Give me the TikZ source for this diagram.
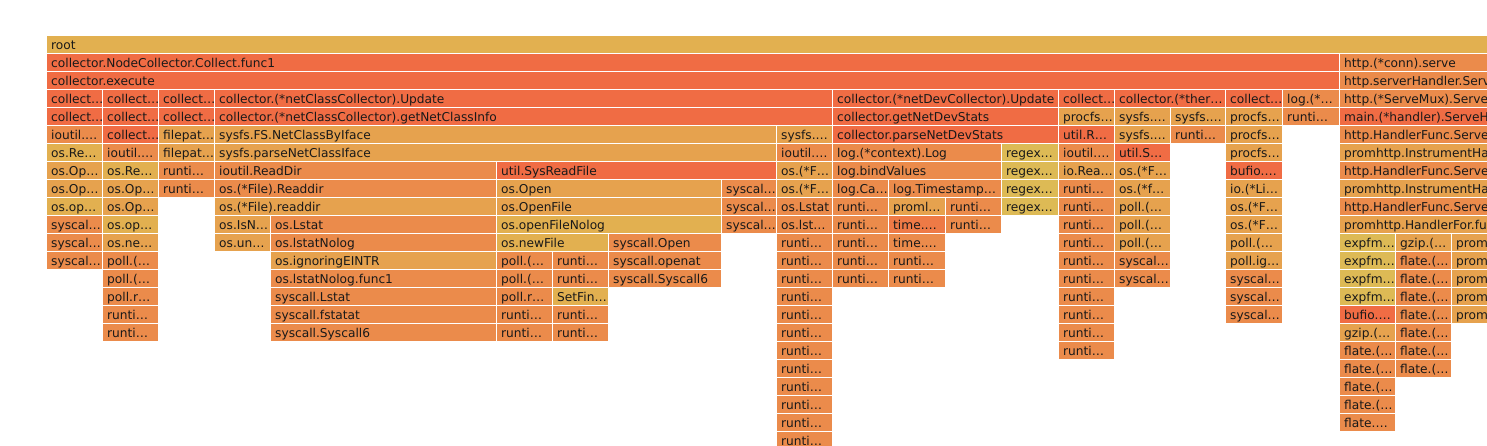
\documentclass[tikz,border=0pt]{standalone}
\usepackage{fontspec}
\setmainfont{DejaVu Sans}
\usepackage{tikz}

\definecolor{fgred}{HTML}{F06C44}
\definecolor{fgtomato}{HTML}{EE7A46}
\definecolor{fgorange}{HTML}{EB8B4B}
\definecolor{fglight}{HTML}{E6A24E}
\definecolor{fggold}{HTML}{E2B050}
\definecolor{fgyellow}{HTML}{DDBA55}

% name, colour, left x, next left x, depth, label
\newcommand{\fg}[6]{%
  \pgfmathsetmacro{\fgw}{#4-#3-9}%
  \node[callbox, fill=#2, text width=\fgw pt] (#1) at (#3,{35.5+18*#5}) {\mbox{#6}};%
}

\begin{document}
\begin{tikzpicture}[x=1pt, y=-1pt, font=\fontsize{12.2}{14}\selectfont]
    \tikzstyle{callbox} = [rectangle, anchor=north west, inner xsep=4pt, inner ysep=0pt, minimum height=17pt, text height=11.8pt, text depth=2pt, align=left, text=black!90]

    \path[use as bounding box, fill=white] (0,0) rectangle (1487,446);
    \clip (0,0) rectangle (1487,446);

    \fg{root}{fggold}{47}{1500}{0}{root}
    \fg{a1}{fgred}{47}{1340}{1}{collector.NodeCollector.Collect.func1}
    \fg{t1}{fgorange}{1340}{1500}{1}{http.(*conn).serve}
    \fg{a2}{fgred}{47}{1340}{2}{collector.execute}
    \fg{t2}{fgorange}{1340}{1500}{2}{http.serverHandler.Serve}

    \fg{a3}{fgred}{47}{103}{3}{collect…}
    \fg{b3}{fgred}{103}{159}{3}{collect…}
    \fg{c3}{fgred}{159}{215}{3}{collect…}
    \fg{d3}{fgred}{215}{833}{3}{collector.(*netClassCollector).Update}
    \fg{k3}{fgred}{833}{1059}{3}{collector.(*netDevCollector).Update}
    \fg{o3}{fgred}{1059}{1115}{3}{collect…}
    \fg{p3}{fgred}{1115}{1226}{3}{collector.(*ther…}
    \fg{r3}{fgred}{1226}{1283}{3}{collect…}
    \fg{s3}{fgorange}{1283}{1340}{3}{log.(*…}
    \fg{t3}{fgorange}{1340}{1500}{3}{http.(*ServeMux).Serve}

    \fg{a4}{fgred}{47}{103}{4}{collect…}
    \fg{b4}{fgred}{103}{159}{4}{collect…}
    \fg{c4}{fgred}{159}{215}{4}{collect…}
    \fg{d4}{fgred}{215}{833}{4}{collector.(*netClassCollector).getNetClassInfo}
    \fg{k4}{fgred}{833}{1059}{4}{collector.getNetDevStats}
    \fg{o4}{fglight}{1059}{1115}{4}{procfs…}
    \fg{p4}{fglight}{1115}{1171}{4}{sysfs.…}
    \fg{q4}{fglight}{1171}{1226}{4}{sysfs.…}
    \fg{r4}{fglight}{1226}{1283}{4}{procfs…}
    \fg{s4}{fgorange}{1283}{1340}{4}{runti…}
    \fg{t4}{fgred}{1340}{1500}{4}{main.(*handler).ServeH}

    \fg{a5}{fgorange}{47}{103}{5}{ioutil.…}
    \fg{b5}{fgred}{103}{159}{5}{collect…}
    \fg{c5}{fglight}{159}{215}{5}{filepat…}
    \fg{d5}{fglight}{215}{777}{5}{sysfs.FS.NetClassByIface}
    \fg{j5}{fglight}{777}{833}{5}{sysfs.…}
    \fg{k5}{fgred}{833}{1059}{5}{collector.parseNetDevStats}
    \fg{o5}{fgred}{1059}{1115}{5}{util.R…}
    \fg{p5}{fglight}{1115}{1171}{5}{sysfs.…}
    \fg{q5}{fgorange}{1171}{1226}{5}{runti…}
    \fg{r5}{fglight}{1226}{1283}{5}{procfs…}
    \fg{t5}{fgorange}{1340}{1500}{5}{http.HandlerFunc.Serve}

    \fg{a6}{fggold}{47}{103}{6}{os.Re…}
    \fg{b6}{fgorange}{103}{159}{6}{ioutil.…}
    \fg{c6}{fglight}{159}{215}{6}{filepat…}
    \fg{d6}{fglight}{215}{777}{6}{sysfs.parseNetClassIface}
    \fg{j6}{fgorange}{777}{833}{6}{ioutil.…}
    \fg{k6}{fgorange}{833}{1002}{6}{log.(*context).Log}
    \fg{n6}{fgyellow}{1002}{1059}{6}{regex…}
    \fg{o6}{fgorange}{1059}{1115}{6}{ioutil.…}
    \fg{p6}{fgred}{1115}{1171}{6}{util.S…}
    \fg{r6}{fglight}{1226}{1283}{6}{procfs…}
    \fg{t6}{fglight}{1340}{1500}{6}{promhttp.InstrumentHa}

    \fg{a7}{fglight}{47}{103}{7}{os.Op…}
    \fg{b7}{fggold}{103}{159}{7}{os.Re…}
    \fg{c7}{fgorange}{159}{215}{7}{runti…}
    \fg{d7}{fgorange}{215}{497}{7}{ioutil.ReadDir}
    \fg{f7}{fgred}{497}{777}{7}{util.SysReadFile}
    \fg{j7}{fglight}{777}{833}{7}{os.(*F…}
    \fg{k7}{fgorange}{833}{1002}{7}{log.bindValues}
    \fg{n7}{fgyellow}{1002}{1059}{7}{regex…}
    \fg{o7}{fglight}{1059}{1115}{7}{io.Rea…}
    \fg{p7}{fglight}{1115}{1171}{7}{os.(*F…}
    \fg{r7}{fgred}{1226}{1283}{7}{bufio.…}
    \fg{t7}{fgorange}{1340}{1500}{7}{http.HandlerFunc.Serve}

    \fg{a8}{fglight}{47}{103}{8}{os.Op…}
    \fg{b8}{fglight}{103}{159}{8}{os.Op…}
    \fg{c8}{fgorange}{159}{215}{8}{runti…}
    \fg{d8}{fgorange}{215}{497}{8}{os.(*File).Readdir}
    \fg{f8}{fglight}{497}{722}{8}{os.Open}
    \fg{i8}{fgorange}{722}{777}{8}{syscal…}
    \fg{j8}{fglight}{777}{833}{8}{os.(*F…}
    \fg{k8}{fgorange}{833}{889}{8}{log.Ca…}
    \fg{l8}{fgorange}{889}{1002}{8}{log.Timestamp…}
    \fg{n8}{fgyellow}{1002}{1059}{8}{regex…}
    \fg{p8}{fglight}{1115}{1171}{8}{os.(*f…}
    \fg{r8}{fglight}{1226}{1283}{8}{io.(*Li…}
    \fg{t8}{fglight}{1340}{1500}{8}{promhttp.InstrumentHa}

    \fg{a9}{fggold}{47}{103}{9}{os.op…}
    \fg{b9}{fglight}{103}{159}{9}{os.Op…}
    \fg{d9}{fglight}{215}{497}{9}{os.(*File).readdir}
    \fg{f9}{fglight}{497}{722}{9}{os.OpenFile}
    \fg{i9}{fgorange}{722}{777}{9}{syscal…}
    \fg{j9}{fgorange}{777}{833}{9}{os.Lstat}
    \fg{l9}{fglight}{889}{946}{9}{proml…}
    \fg{n9}{fgyellow}{1002}{1059}{9}{regex…}
    \fg{p9}{fglight}{1115}{1171}{9}{poll.(…}
    \fg{r9}{fglight}{1226}{1283}{9}{os.(*F…}
    \fg{t9}{fgorange}{1340}{1500}{9}{http.HandlerFunc.Serve}

    \fg{a10}{fgorange}{47}{103}{10}{syscal…}
    \fg{b10}{fggold}{103}{159}{10}{os.op…}
    \fg{d10}{fglight}{215}{271}{10}{os.IsN…}
    \fg{e10}{fgorange}{271}{497}{10}{os.Lstat}
    \fg{f10}{fggold}{497}{722}{10}{os.openFileNolog}
    \fg{i10}{fgorange}{722}{777}{10}{syscal…}
    \fg{j10}{fgorange}{777}{833}{10}{os.lst…}
    \fg{l10}{fgtomato}{889}{946}{10}{time.…}
    \fg{p10}{fglight}{1115}{1171}{10}{poll.(…}
    \fg{r10}{fglight}{1226}{1283}{10}{os.(*F…}
    \fg{t10}{fglight}{1340}{1500}{10}{promhttp.HandlerFor.fu}

    \fg{a11}{fgorange}{47}{103}{11}{syscal…}
    \fg{b11}{fglight}{103}{159}{11}{os.ne…}
    \fg{d11}{fglight}{215}{271}{11}{os.un…}
    \fg{e11}{fgorange}{271}{497}{11}{os.lstatNolog}
    \fg{f11}{fggold}{497}{609}{11}{os.newFile}
    \fg{h11}{fgorange}{609}{722}{11}{syscall.Open}
    \fg{l11}{fgorange}{889}{946}{11}{time.…}
    \fg{p11}{fglight}{1115}{1171}{11}{poll.(…}
    \fg{r11}{fglight}{1226}{1283}{11}{poll.(…}
    \fg{u11}{fglight}{1396}{1452}{11}{gzip.(…}

    \fg{a12}{fgorange}{47}{103}{12}{syscal…}
    \fg{b12}{fgorange}{103}{159}{12}{poll.(…}
    \fg{e12}{fglight}{271}{497}{12}{os.ignoringEINTR}
    \fg{f12}{fgorange}{497}{553}{12}{poll.(…}
    \fg{h12}{fgorange}{609}{722}{12}{syscall.openat}
    \fg{p12}{fgorange}{1115}{1171}{12}{syscal…}
    \fg{r12}{fglight}{1226}{1283}{12}{poll.ig…}

    \fg{b13}{fgorange}{103}{159}{13}{poll.(…}
    \fg{e13}{fgorange}{271}{497}{13}{os.lstatNolog.func1}
    \fg{f13}{fgorange}{497}{553}{13}{poll.(…}
    \fg{h13}{fgorange}{609}{722}{13}{syscall.Syscall6}
    \fg{p13}{fgorange}{1115}{1171}{13}{syscal…}

    \fg{b14}{fgorange}{103}{159}{14}{poll.r…}
    \fg{e14}{fgorange}{271}{497}{14}{syscall.Lstat}
    \fg{f14}{fgorange}{497}{553}{14}{poll.r…}
    \fg{g14}{fggold}{553}{609}{14}{SetFin…}

    \fg{e15}{fgorange}{271}{497}{15}{syscall.fstatat}
    \fg{t15}{fgred}{1340}{1396}{15}{bufio.…}
    \fg{e16}{fgorange}{271}{497}{16}{syscall.Syscall6}
    \fg{t16}{fglight}{1340}{1396}{16}{gzip.(…}
    \fg{t21}{fgorange}{1340}{1396}{21}{flate.…}

    % runtime towers and repeated frames
    \foreach \lvl in {15,16} {\fg{b\lvl}{fgorange}{103}{159}{\lvl}{runti…}}
    \foreach \lvl in {15,16} {\fg{f\lvl}{fgorange}{497}{553}{\lvl}{runti…}}
    \foreach \lvl in {12,13,15,16} {\fg{g\lvl}{fgorange}{553}{609}{\lvl}{runti…}}
    \foreach \lvl in {11,...,22} {\fg{j\lvl}{fgorange}{777}{833}{\lvl}{runti…}}
    \foreach \lvl in {9,...,13} {\fg{k\lvl}{fgorange}{833}{889}{\lvl}{runti…}}
    \foreach \lvl in {12,13} {\fg{l\lvl}{fgorange}{889}{946}{\lvl}{runti…}}
    \foreach \lvl in {9,10} {\fg{m\lvl}{fgorange}{946}{1002}{\lvl}{runti…}}
    \foreach \lvl in {8,...,17} {\fg{o\lvl}{fgorange}{1059}{1115}{\lvl}{runti…}}
    \foreach \lvl in {13,14,15} {\fg{r\lvl}{fgorange}{1226}{1283}{\lvl}{syscal…}}
    \foreach \lvl in {11,...,14} {\fg{t\lvl}{fgyellow}{1340}{1396}{\lvl}{expfm…}}
    \foreach \lvl in {17,...,20} {\fg{t\lvl}{fgorange}{1340}{1396}{\lvl}{flate.(…}}
    \foreach \lvl in {12,...,18} {\fg{u\lvl}{fgorange}{1396}{1452}{\lvl}{flate.(…}}
    \foreach \lvl in {11,...,15} {\fg{v\lvl}{fglight}{1452}{1500}{\lvl}{prom}}
\end{tikzpicture}
\end{document}
